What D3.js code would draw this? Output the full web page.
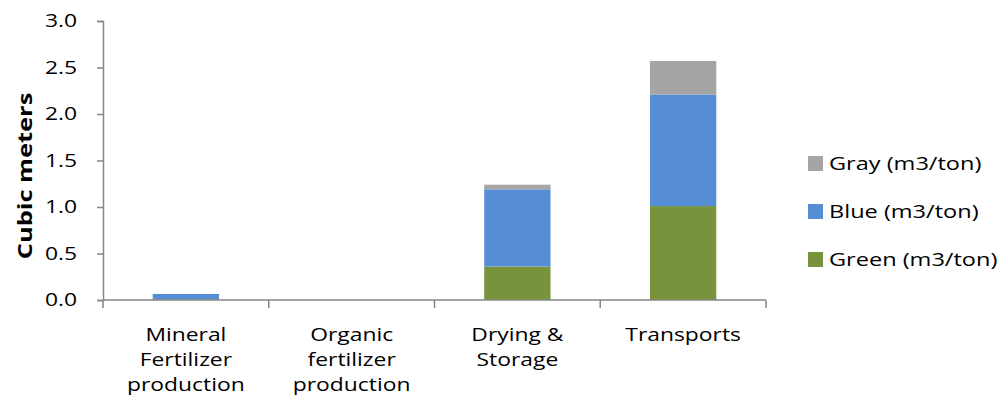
<!DOCTYPE html>
<html><head><meta charset="utf-8">
<script src="https://cdn.jsdelivr.net/npm/d3@7"></script>
<style>body{margin:0;background:#fff}svg{display:block}text{font-family:"Open Sans",sans-serif}</style>
</head><body><svg id="c" width="1002" height="412"></svg>
<script>
const categories = ["Mineral Fertilizer production", "Organic fertilizer production", "Drying & Storage", "Transports"];
const categoryLines = [["Mineral","Fertilizer","production"],["Organic","fertilizer","production"],["Drying &","Storage"],["Transports"]];
const greenValues = [0.005, 0, 0.36, 1.01];
const blueValues = [0.06, 0, 0.83, 1.20];
const grayValues = [0, 0, 0.05, 0.36];
const seriesNames = ["Green (m3/ton)", "Blue (m3/ton)", "Gray (m3/ton)"];
const seriesColors = ["#77933C", "#558ED5", "#A5A5A5"];
const yTicks = [0, 0.5, 1.0, 1.5, 2.0, 2.5, 3.0];

const FS = 18, SX = 1.27;
const svg = d3.select("#c");
const x0 = 103, x1 = 766, yTop = 21, yBot = 300;
const x = d3.scaleBand().domain(categories).range([x0, x1]).paddingInner(0.6).paddingOuter(0.3);
const y = d3.scaleLinear().domain([0, 3]).range([yBot, yTop]);

const rows = categories.map((c, i) => ({cat: c, g: greenValues[i], b: blueValues[i], y: grayValues[i]}));
const stack = d3.stack().keys(["g", "b", "y"])(rows);

const axisColor = "#868686";
// y axis
const yAxis = svg.append("g").attr("transform", `translate(${x0},0)`)
  .call(d3.axisLeft(y).tickValues(yTicks).tickFormat(d3.format(".1f")).tickSize(6).tickPadding(20));
yAxis.select(".domain").attr("stroke", axisColor).attr("stroke-width", 1.5);
yAxis.selectAll(".tick line").attr("stroke", axisColor).attr("stroke-width", 1.5);
yAxis.selectAll(".tick text").attr("font-size", FS).attr("fill", "#000").attr("font-family", "Open Sans")
  .attr("x", -26 / SX).attr("transform", `scale(${SX},1)`);

// bars
svg.append("g").selectAll("g").data(stack).join("g")
  .attr("fill", (d, i) => seriesColors[i])
  .selectAll("rect").data(d => d).join("rect")
  .attr("x", d => x(d.data.cat)).attr("width", x.bandwidth())
  .attr("y", d => y(d[1])).attr("height", d => Math.max(0, y(d[0]) - y(d[1])));

// x axis
const step = x.step();
const xa = svg.append("g");
xa.append("line").attr("x1", x0).attr("x2", x1).attr("y1", yBot).attr("y2", yBot)
  .attr("stroke", axisColor).attr("stroke-width", 1.5);
xa.selectAll("line.t").data(d3.range(categories.length + 1)).join("line").attr("class", "t")
  .attr("x1", i => x0 + i * step).attr("x2", i => x0 + i * step)
  .attr("y1", yBot).attr("y2", yBot + 8).attr("stroke", axisColor).attr("stroke-width", 1.5);
categories.forEach((c, i) => {
  const cx = x(c) + x.bandwidth() / 2;
  categoryLines[i].forEach((l, j) => {
    xa.append("text").attr("transform", `translate(${cx},${341 + j * 24.8}) scale(${SX},1)`)
      .attr("text-anchor", "middle").attr("font-size", FS).attr("fill", "#000").text(l);
  });
});

// y label
svg.append("text").attr("transform", `translate(32,176) rotate(-90) scale(1.27,1)`)
  .attr("text-anchor", "middle").attr("font-size", 20).attr("font-weight", "bold").attr("fill", "#000")
  .text("Cubic meters");

// legend (reverse order: Gray, Blue, Green)
const legendOrder = [2, 1, 0];
const lg = svg.append("g");
legendOrder.forEach((si, k) => {
  const cy = 163.5 + k * 48;
  lg.append("rect").attr("x", 808).attr("y", cy - 7.5).attr("width", 15).attr("height", 15).attr("fill", seriesColors[si]);
  lg.append("text").attr("transform", `translate(829,${cy}) scale(${SX * 1.03},1)`).attr("dy", "0.35em")
    .attr("font-size", FS).attr("fill", "#000").text(seriesNames[si]);
});
</script></body></html>
